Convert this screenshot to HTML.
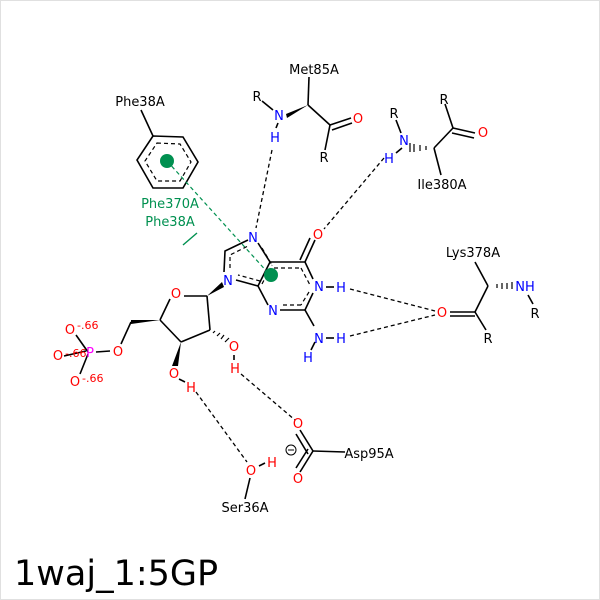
<!DOCTYPE html>
<html><head><style>body{margin:0;background:#fff}svg{display:block}</style></head><body>
<svg width="600" height="600" viewBox="0 0 600 600" xmlns="http://www.w3.org/2000/svg" font-family="DejaVu Sans, Liberation Sans, sans-serif">
<rect x="0.5" y="0.5" width="599" height="599" fill="#fff" stroke="#e0e0e0"/>
<g stroke="#000" stroke-width="1.6" fill="none">
<polygon points="153,136 183,137 198,162 183,188 153,188 137,160"/>
<polygon points="157,143 180,144 191,162 180,181 157,181 145,161" stroke-dasharray="4,3" stroke-width="1.2"/>
<line x1="153" y1="136" x2="141" y2="110"/>
<line x1="309" y1="77" x2="308" y2="105"/>
<line x1="308" y1="105" x2="330" y2="125"/>
<line x1="330" y1="125" x2="351" y2="118"/><line x1="332" y1="130" x2="352" y2="123"/>
<line x1="330" y1="125" x2="325" y2="150"/>
<line x1="262" y1="101" x2="273" y2="110"/>
<line x1="278" y1="123" x2="276" y2="128"/>
<line x1="396" y1="120" x2="401" y2="133"/>
<line x1="434" y1="148" x2="453" y2="128"/>
<line x1="453" y1="128" x2="475" y2="133"/><line x1="452" y1="133" x2="474" y2="138"/>
<line x1="453" y1="128" x2="445" y2="104"/>
<line x1="434" y1="148" x2="441" y2="175"/>
<line x1="402" y1="148" x2="396" y2="153"/>
<polyline points="224,272 225,251 248,240"/>
<line x1="258" y1="243" x2="270" y2="262"/>
<line x1="270" y1="262" x2="305" y2="262"/>
<line x1="305" y1="262" x2="313" y2="279"/>
<line x1="313" y1="293" x2="305" y2="310"/>
<line x1="305" y1="310" x2="280" y2="310"/>
<line x1="268" y1="305" x2="258" y2="286"/>
<line x1="258" y1="286" x2="270" y2="262"/>
<line x1="258" y1="286" x2="236" y2="280"/>
<line x1="305" y1="262" x2="315" y2="240"/><line x1="300" y1="260" x2="310" y2="238"/>
<line x1="305" y1="310" x2="314" y2="326"/>
<line x1="326" y1="287" x2="334" y2="287"/>
<line x1="326" y1="338" x2="334" y2="338"/>
<line x1="315" y1="342" x2="311" y2="350"/>
<g stroke-dasharray="4,3" stroke-width="1.2">
<polyline points="230,268 230,255 248,246"/>
<line x1="262" y1="248" x2="272" y2="265"/>
<line x1="274" y1="268" x2="301" y2="268"/>
<line x1="301" y1="268" x2="310" y2="285"/>
<line x1="301" y1="305" x2="281" y2="305"/>
<line x1="262" y1="284" x2="272" y2="265"/>
<line x1="260" y1="281" x2="238" y2="275"/>
<line x1="309" y1="292" x2="301" y2="305"/>
</g>
<line x1="184" y1="296" x2="207" y2="296"/>
<line x1="207" y1="296" x2="210" y2="330"/>
<line x1="210" y1="330" x2="181" y2="342"/>
<line x1="181" y1="342" x2="160" y2="320"/>
<line x1="160" y1="320" x2="170" y2="299"/>
<line x1="131" y1="322" x2="121" y2="344"/>
<line x1="110" y1="351" x2="96" y2="352"/>
<line x1="88" y1="352" x2="76" y2="335"/>
<line x1="86" y1="351" x2="64" y2="356"/>
<line x1="88" y1="354" x2="80" y2="374"/>
<line x1="234" y1="355" x2="234" y2="360"/>
<line x1="179" y1="379" x2="185" y2="382"/>
<line x1="475" y1="262" x2="488" y2="286"/>
<line x1="488" y1="286" x2="475" y2="312"/>
<line x1="475" y1="312" x2="450" y2="312"/><line x1="475" y1="316" x2="450" y2="316"/>
<line x1="475" y1="312" x2="486" y2="330"/>
<line x1="528" y1="295" x2="533" y2="304"/>
<line x1="300" y1="430" x2="313" y2="451"/><line x1="296" y1="434" x2="308" y2="454"/>
<line x1="313" y1="451" x2="300" y2="472"/><line x1="308" y1="449" x2="296" y2="468"/>
<line x1="313" y1="451" x2="345" y2="452"/>
<line x1="250" y1="478" x2="245" y2="499"/>
<line x1="259" y1="466" x2="265" y2="463"/>
</g>
<polygon points="308,105 286,114 287,118" fill="#000"/>
<polygon points="207,296 222,282 224,287" fill="#000"/>
<polygon points="160,320 131,320 131,324" fill="#000"/>
<polygon points="181,342 172,366 178,366" fill="#000"/>
<g stroke="#000" stroke-width="1.2">
<path d="M426,146v4M420,145v6M414,144v8M410,143v9"/>
<path d="M213,333l2,-2M217,336l3,-3M221,339l3,-4M225,342l4,-4"/>
<path d="M497,284v4M502,283v6M507,283v6M512,282v7"/>
</g>
<g stroke="#000" stroke-width="1.3" stroke-dasharray="4,3" fill="none">
<line x1="272" y1="150" x2="256" y2="228"/>
<line x1="384" y1="158" x2="324" y2="229"/>
<line x1="350" y1="289" x2="435" y2="311"/>
<line x1="350" y1="336" x2="435" y2="315"/>
<line x1="241" y1="374" x2="295" y2="420"/>
<line x1="196" y1="392" x2="247" y2="462"/>
</g>
<line x1="167" y1="161" x2="270" y2="275" stroke="#009050" stroke-width="1.2" stroke-dasharray="4,3"/>
<line x1="183" y1="245" x2="197" y2="233" stroke="#009050" stroke-width="1.4"/>
<circle cx="167" cy="161" r="7" fill="#009050"/>
<circle cx="271" cy="275" r="7" fill="#009050"/>
<circle cx="291" cy="450" r="5" fill="none" stroke="#000"/><line x1="288" y1="450" x2="294" y2="450" stroke="#000"/>
<g font-size="13" text-anchor="middle">
<g fill="#000">
<text x="140" y="106">Phe38A</text>
<text x="314" y="74">Met85A</text>
<text x="257" y="101">R</text><text x="324" y="162">R</text>
<text x="394" y="118">R</text><text x="444" y="104">R</text>
<text x="442" y="189">Ile380A</text>
<text x="473" y="257">Lys378A</text>
<text x="535" y="318">R</text><text x="488" y="343">R</text>
<text x="369" y="458">Asp95A</text>
<text x="245" y="512">Ser36A</text>
</g>
<g fill="#0000ff">
<text x="279" y="120">N</text><text x="275" y="142">H</text>
<text x="404" y="145">N</text><text x="389" y="163">H</text>
<text x="253" y="242">N</text><text x="228" y="285">N</text>
<text x="273" y="315">N</text><text x="319" y="291">N</text><text x="341" y="292">H</text>
<text x="319" y="343">N</text><text x="341" y="343">H</text><text x="308" y="362">H</text>
<text x="525" y="291">NH</text>
</g>
<text x="90" y="357" fill="#ff00ff">P</text>
<g fill="#ff0000">
<text x="358" y="123">O</text><text x="483" y="137">O</text>
<text x="318" y="239">O</text>
<text x="176" y="298">O</text><text x="118" y="356">O</text>
<text x="234" y="351">O</text><text x="235" y="373">H</text>
<text x="174" y="378">O</text><text x="191" y="392">H</text>
<text x="442" y="317">O</text>
<text x="298" y="428">O</text><text x="298" y="483">O</text>
<text x="251" y="475">O</text><text x="272" y="467">H</text>
<text x="70" y="334">O</text><text x="58" y="360">O</text><text x="75" y="386">O</text>
</g>
<g fill="#009050">
<text x="170" y="208">Phe370A</text><text x="170" y="226">Phe38A</text>
</g>
</g>
<g font-size="11" fill="#ff0000">
<text x="77" y="329">-.66</text><text x="65" y="357">-.66</text><text x="82" y="382">-.66</text>
</g>
<text x="14" y="585" font-size="35" fill="#000">1waj_1:5GP</text>
</svg>
</body></html>
